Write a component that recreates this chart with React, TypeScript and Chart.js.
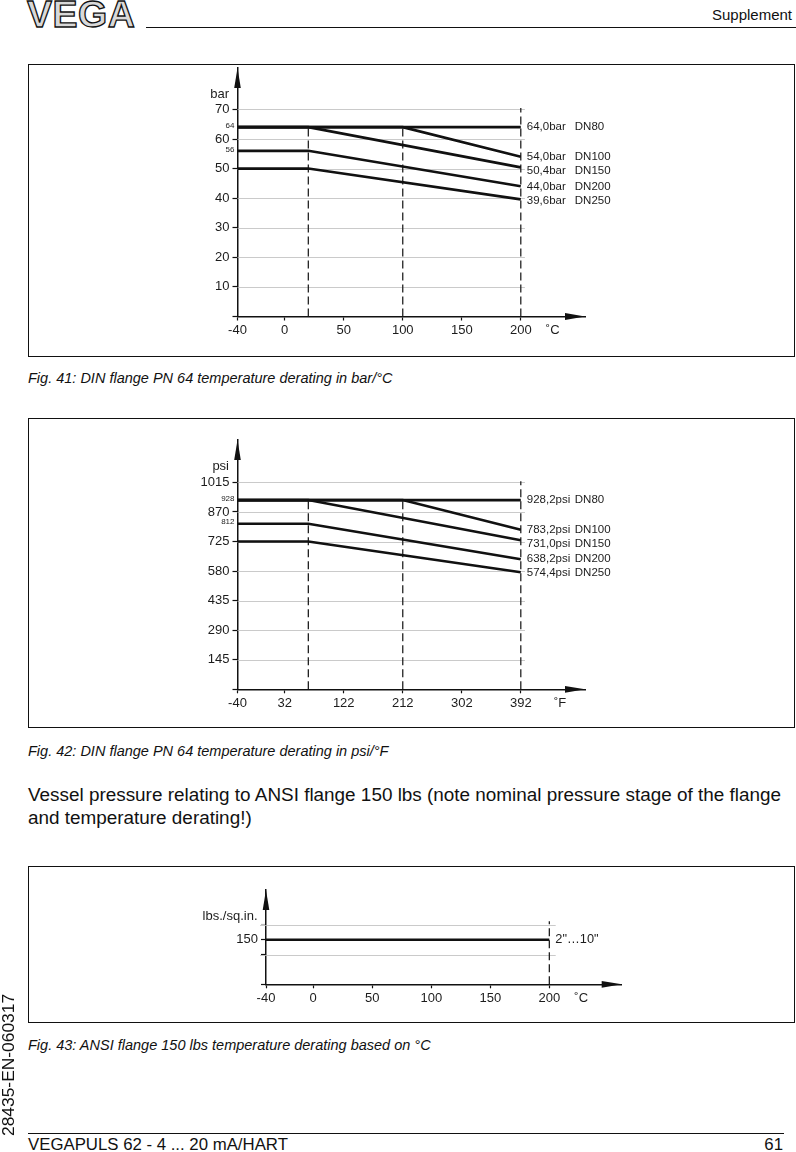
import React, { useEffect, useRef } from 'react';
import { Chart, registerables } from 'chart.js';

Chart.register(...registerables);

// ---------- Fig. 41: DIN flange PN 64, bar / °C ----------
const barTempC = [-40, 20, 100, 200];
const barDN80 = [64, null, null, 64];
const barDN100 = [64, null, 64, 54];
const barDN150 = [64, 64, null, 50.4];
const barDN200 = [56, 56, null, 44];
const barDN250 = [50, 50, null, 39.6];
const barMarkTemps = [20, 100, 200];
const barMarkTops = [64, 64, 70.5];
const barTicks = [10, 20, 30, 40, 50, 60, 70];
const barSmallTicks = [56, 64];
const barEndLabels = ['64,0bar', '54,0bar', '50,4bar', '44,0bar', '39,6bar'];
const dnNames = ['DN80', 'DN100', 'DN150', 'DN200', 'DN250'];
const celsiusTicks = [-40, 0, 50, 100, 150, 200];

// ---------- Fig. 42: DIN flange PN 64, psi / °F ----------
const psiTempF = [-40, 68, 212, 392];
const psiDN80 = [928.2, null, null, 928.2];
const psiDN100 = [928.2, null, 928.2, 783.2];
const psiDN150 = [928.2, 928.2, null, 731.0];
const psiDN200 = [812.2, 812.2, null, 638.2];
const psiDN250 = [725.2, 725.2, null, 574.4];
const psiMarkTemps = [68, 212, 392];
const psiMarkTops = [928.2, 928.2, 1021];
const psiTicks = [145, 290, 435, 580, 725, 870, 1015];
const psiSmallTicks = [812, 928];
const psiEndLabels = ['928,2psi', '783,2psi', '731,0psi', '638,2psi', '574,4psi'];
const fahrenheitTicks = [-40, 32, 122, 212, 302, 392];

// ---------- Fig. 43: ANSI flange 150 lbs ----------
const ansiTempC = [-40, 200];
const ansiPressure = [150, 150];
const ansiMarkTemps = [200];
const ansiMarkTops = [212];
const ansiTicks = [150];
const ansiTickOnly = [100, 200];
const ansiGridTicks = [100, 200];
const ansiEndLabels = ['2"…10"'];

const FONT = '"Liberation Sans", Arial, Helvetica, sans-serif';
const INK = '#1c1c1c';
const CANVAS_W = 796;
const Y_W = 40;
const X_H = 30;

Chart.defaults.font.family = FONT;

type Spec = {
  xs: number[];
  series: (number | null)[][];
  markXs: number[];
  markTops: number[];
  xMin: number;
  xMax: number;
  xTicks: number[];
  unitValue: number;
  unitLabel: string;
  yMax: number;
  yLabeled: number[];
  ySmall: number[];
  yTickOnly: number[];
  yFaint: number[];
  yGrid: number[];
  gridEnd: number;
  gridLeftExt: number;
  yTitle: string;
  endLabels: string[];
  endNames: string[];
  endFont: number;
  labelNudge: number[];
  canvasTop: number;
  canvasHeight: number;
  areaLeft: number;
  areaRight: number;
  areaTop: number;
  axisY: number;
};

const spec1: Spec = {
  xs: barTempC,
  series: [barDN80, barDN100, barDN150, barDN200, barDN250],
  markXs: barMarkTemps,
  markTops: barMarkTops,
  xMin: -40,
  xMax: 254.4,
  xTicks: celsiusTicks,
  unitValue: 227,
  unitLabel: '˚C',
  yMax: 84,
  yLabeled: barTicks,
  ySmall: barSmallTicks,
  yTickOnly: [],
  yFaint: [],
  yGrid: barTicks,
  gridEnd: 203.5,
  gridLeftExt: 0,
  yTitle: 'bar',
  endLabels: barEndLabels,
  endNames: dnNames,
  endFont: 11.5,
  labelNudge: [0, 0, 3.5, 0, 1.5],
  canvasTop: 40,
  canvasHeight: 316,
  areaLeft: 237.5,
  areaRight: 585,
  areaTop: 68,
  axisY: 316.5,
};

const spec2: Spec = {
  xs: psiTempF,
  series: [psiDN80, psiDN100, psiDN150, psiDN200, psiDN250],
  markXs: psiMarkTemps,
  markTops: psiMarkTops,
  xMin: -40,
  xMax: 489.9,
  xTicks: fahrenheitTicks,
  unitValue: 452,
  unitLabel: '˚F',
  yMax: 1223,
  yLabeled: psiTicks,
  ySmall: psiSmallTicks,
  yTickOnly: [],
  yFaint: [],
  yGrid: psiTicks,
  gridEnd: 398.4,
  gridLeftExt: 0,
  yTitle: 'psi',
  endLabels: psiEndLabels,
  endNames: dnNames,
  endFont: 11.5,
  labelNudge: [0, 0, 3.5, 0, 1],
  canvasTop: 400,
  canvasHeight: 327,
  areaLeft: 237.5,
  areaRight: 585,
  areaTop: 440,
  axisY: 689.3,
};

const spec3: Spec = {
  xs: ansiTempC,
  series: [ansiPressure],
  markXs: ansiMarkTemps,
  markTops: ansiMarkTops,
  xMin: -40,
  xMax: 261.3,
  xTicks: celsiusTicks,
  unitValue: 227,
  unitLabel: '˚C',
  yMax: 317,
  yLabeled: ansiTicks,
  ySmall: [],
  yTickOnly: ansiTickOnly,
  yFaint: [200],
  yGrid: ansiGridTicks,
  gridEnd: 205.4,
  gridLeftExt: 6,
  yTitle: 'lbs./sq.in.',
  endLabels: ansiEndLabels,
  endNames: [],
  endFont: 12.8,
  labelNudge: [0],
  canvasTop: 850,
  canvasHeight: 172,
  areaLeft: 266,
  areaRight: 621.7,
  areaTop: 890,
  axisY: 984.3,
};

function decorPlugin(spec: Spec) {
  return {
    id: 'decor',
    beforeDatasetsDraw(chart: any) {
      const { ctx, chartArea, scales } = chart;
      const x = scales.x;
      const y = scales.y;
      ctx.save();
      ctx.strokeStyle = '#bdbdbd';
      ctx.lineWidth = 0.8;
      const xe = x.getPixelForValue(spec.gridEnd);
      spec.yGrid.forEach((v) => {
        const py = Math.round(y.getPixelForValue(v)) + 0.5;
        ctx.beginPath();
        ctx.moveTo(chartArea.left - spec.gridLeftExt, py);
        ctx.lineTo(xe, py);
        ctx.stroke();
      });
      ctx.restore();
    },
    afterDraw(chart: any) {
      const { ctx, chartArea, scales } = chart;
      const x = scales.x;
      const y = scales.y;
      ctx.save();
      // arrow heads
      ctx.fillStyle = '#111';
      const ax = chartArea.left;
      const ay = chartArea.bottom;
      ctx.beginPath();
      ctx.moveTo(ax, chartArea.top);
      ctx.lineTo(ax - 3.3, chartArea.top + 20);
      ctx.lineTo(ax + 3.3, chartArea.top + 20);
      ctx.closePath();
      ctx.fill();
      ctx.beginPath();
      ctx.moveTo(chartArea.right, ay);
      ctx.lineTo(chartArea.right - 20, ay - 3.4);
      ctx.lineTo(chartArea.right - 20, ay + 3.4);
      ctx.closePath();
      ctx.fill();
      // axis title
      ctx.fillStyle = INK;
      ctx.font = `13px ${FONT}`;
      ctx.textAlign = 'right';
      ctx.textBaseline = 'middle';
      ctx.fillText(spec.yTitle, chartArea.left - 8.5, chartArea.top + 26);
      // small level labels on the y axis
      ctx.font = `8px ${FONT}`;
      spec.ySmall.forEach((v) => {
        ctx.fillText(String(v), chartArea.left - 3, y.getPixelForValue(v) - 1.5);
      });
      // end labels
      ctx.font = `${spec.endFont}px ${FONT}`;
      ctx.textAlign = 'left';
      const lastX = spec.xs[spec.xs.length - 1];
      spec.series.forEach((s, i) => {
        const lastY = s[s.length - 1] as number;
        const px = x.getPixelForValue(lastX) + 6;
        const py = y.getPixelForValue(lastY) + (spec.labelNudge[i] || 0);
        ctx.fillText(spec.endLabels[i], px, py);
        if (spec.endNames[i]) ctx.fillText(spec.endNames[i], px + 48, py);
      });
      ctx.restore();
    },
  };
}

function buildConfig(spec: Spec): any {
  const lines = spec.series.map((s) => ({
    data: spec.xs.map((xv, i) => ({ x: xv, y: s[i] })),
    borderColor: '#111',
    borderWidth: 2.6,
    pointRadius: 0,
    spanGaps: true,
    tension: 0,
    fill: false,
  }));
  const marks = spec.markXs.map((mx, i) => ({
    data: [
      { x: mx, y: 0 },
      { x: mx, y: spec.markTops[i] },
    ],
    borderColor: '#222',
    borderWidth: 1.3,
    borderDash: [8, 4],
    pointRadius: 0,
    fill: false,
  }));
  const scales: any = {
    x: {
      type: 'linear',
      min: spec.xMin,
      max: spec.xMax,
      afterBuildTicks: (s: any) => {
        s.ticks = [...spec.xTicks, spec.unitValue].map((v) => ({ value: v }));
      },
      afterFit: (s: any) => {
        s.height = X_H;
      },
      ticks: {
        autoSkip: false,
        maxRotation: 0,
        minRotation: 0,
        padding: 2,
        color: INK,
        font: { size: 13 },
        callback: (v: number) => (v === spec.unitValue ? spec.unitLabel : String(v)),
      },
      grid: {
        drawOnChartArea: false,
        drawTicks: true,
        tickLength: 4,
        tickWidth: 1.2,
        tickColor: (c: any) =>
          c.tick && c.tick.value === spec.unitValue ? 'rgba(0,0,0,0)' : '#111',
      },
      border: { display: true, color: '#111', width: 1.5 },
    },
    y: {
      type: 'linear',
      position: 'left',
      min: 0,
      max: spec.yMax,
      afterBuildTicks: (s: any) => {
        s.ticks = [0, ...spec.yTickOnly, ...spec.yLabeled]
          .sort((a, b) => a - b)
          .map((v) => ({ value: v }));
      },
      afterFit: (s: any) => {
        s.width = Y_W;
      },
      ticks: {
        autoSkip: false,
        padding: 3,
        color: INK,
        font: { size: 13 },
        callback: (v: number) => (spec.yLabeled.includes(v) ? String(v) : ''),
      },
      grid: {
        drawOnChartArea: false,
        tickLength: 5,
        tickWidth: 1.2,
        tickColor: (c: any) => (c.tick && spec.yFaint.includes(c.tick.value) ? '#bbbbbb' : '#111'),
      },
      border: { display: true, color: '#111', width: 1.5 },
    },
  };
  return {
    type: 'line',
    data: { datasets: [...lines, ...marks] },
    options: {
      responsive: false,
      maintainAspectRatio: false,
      animation: false,
      devicePixelRatio: 1,
      events: [],
      layout: {
        padding: {
          left: spec.areaLeft - Y_W,
          right: CANVAS_W - spec.areaRight,
          top: spec.areaTop - spec.canvasTop,
          bottom: spec.canvasTop + spec.canvasHeight - spec.axisY - X_H,
        },
      },
      plugins: { legend: { display: false }, tooltip: { enabled: false } },
      scales,
    },
    plugins: [decorPlugin(spec)],
  };
}

function ChartCanvas({ spec }: { spec: Spec }) {
  const ref = useRef<HTMLCanvasElement>(null);
  useEffect(() => {
    const chart = new Chart(ref.current as HTMLCanvasElement, buildConfig(spec));
    return () => chart.destroy();
  }, [spec]);
  return (
    <canvas
      ref={ref}
      width={CANVAS_W}
      height={spec.canvasHeight}
      style={{
        position: 'absolute',
        left: 0,
        top: spec.canvasTop,
        width: CANVAS_W,
        height: spec.canvasHeight,
      }}
    />
  );
}

function Text({
  x,
  cy,
  size,
  children,
  italic,
  right,
}: {
  x: number;
  cy: number;
  size: number;
  children: React.ReactNode;
  italic?: boolean;
  right?: boolean;
}) {
  const lh = size * 1.2;
  const style: React.CSSProperties = {
    position: 'absolute',
    top: cy - lh / 2,
    fontSize: size,
    lineHeight: `${lh}px`,
    fontStyle: italic ? 'italic' : 'normal',
    whiteSpace: 'nowrap',
    color: '#111',
  };
  if (right) {
    style.left = 0;
    style.width = x;
    style.textAlign = 'right';
  } else {
    style.left = x;
  }
  return <div style={style}>{children}</div>;
}

function Box({ top, bottom }: { top: number; bottom: number }) {
  return (
    <div
      style={{
        position: 'absolute',
        left: 28,
        top,
        width: 794.5 - 28,
        height: bottom - top,
        border: '1.3px solid #111',
        boxSizing: 'border-box',
      }}
    />
  );
}

export default function App() {
  return (
    <div
      style={{
        position: 'absolute',
        left: 0,
        top: 0,
        width: 796,
        height: 1152,
        background: '#fff',
        fontFamily: FONT,
        overflow: 'hidden',
      }}
    >
      {/* header */}
      <div
        style={{
          position: 'absolute',
          left: 27,
          top: -4,
          fontSize: 37.5,
          lineHeight: 1,
          fontWeight: 'bold',
          color: '#d9d9d9',
          WebkitTextStroke: '1.3px #111',
          letterSpacing: 0.5,
        }}
      >
        VEGA
      </div>
      <div
        style={{
          position: 'absolute',
          left: 146,
          top: 26.8,
          width: 650,
          height: 0,
          borderTop: '1.3px solid #111',
        }}
      />
      <Text x={792} cy={15} size={15} right>
        Supplement
      </Text>

      <Box top={64} bottom={356.5} />
      <Box top={418} bottom={727.5} />
      <Box top={866} bottom={1022.5} />

      <ChartCanvas spec={spec1} />
      <ChartCanvas spec={spec2} />
      <ChartCanvas spec={spec3} />

      <Text x={28} cy={379} size={14.5} italic>
        Fig. 41: DIN flange PN 64 temperature derating in bar/°C
      </Text>
      <Text x={28} cy={752} size={14.5} italic>
        Fig. 42: DIN flange PN 64 temperature derating in psi/°F
      </Text>
      <div
        style={{
          position: 'absolute',
          left: 28,
          top: 795 - 12,
          fontSize: 18.9,
          lineHeight: '23px',
          color: '#111',
          whiteSpace: 'nowrap',
        }}
      >
        Vessel pressure relating to ANSI flange 150 lbs (note nominal pressure stage of the flange
        <br />
        and temperature derating!)
      </div>
      <Text x={28} cy={1046} size={14.5} italic>
        Fig. 43: ANSI flange 150 lbs temperature derating based on °C
      </Text>

      {/* footer */}
      <div
        style={{
          position: 'absolute',
          left: 28,
          top: 1132.5,
          width: 784 - 28,
          height: 0,
          borderTop: '1.3px solid #111',
        }}
      />
      <Text x={28} cy={1145} size={16.8}>
        VEGAPULS 62 - 4 ... 20 mA/HART
      </Text>
      <Text x={783} cy={1145} size={16.8} right>
        61
      </Text>
      <div
        style={{
          position: 'absolute',
          left: -2,
          top: 1135.5,
          fontSize: 17.4,
          lineHeight: `${17.4 * 1.2}px`,
          whiteSpace: 'nowrap',
          color: '#111',
          transform: 'rotate(-90deg)',
          transformOrigin: '0 0',
        }}
      >
        28435-EN-060317
      </div>
    </div>
  );
}
